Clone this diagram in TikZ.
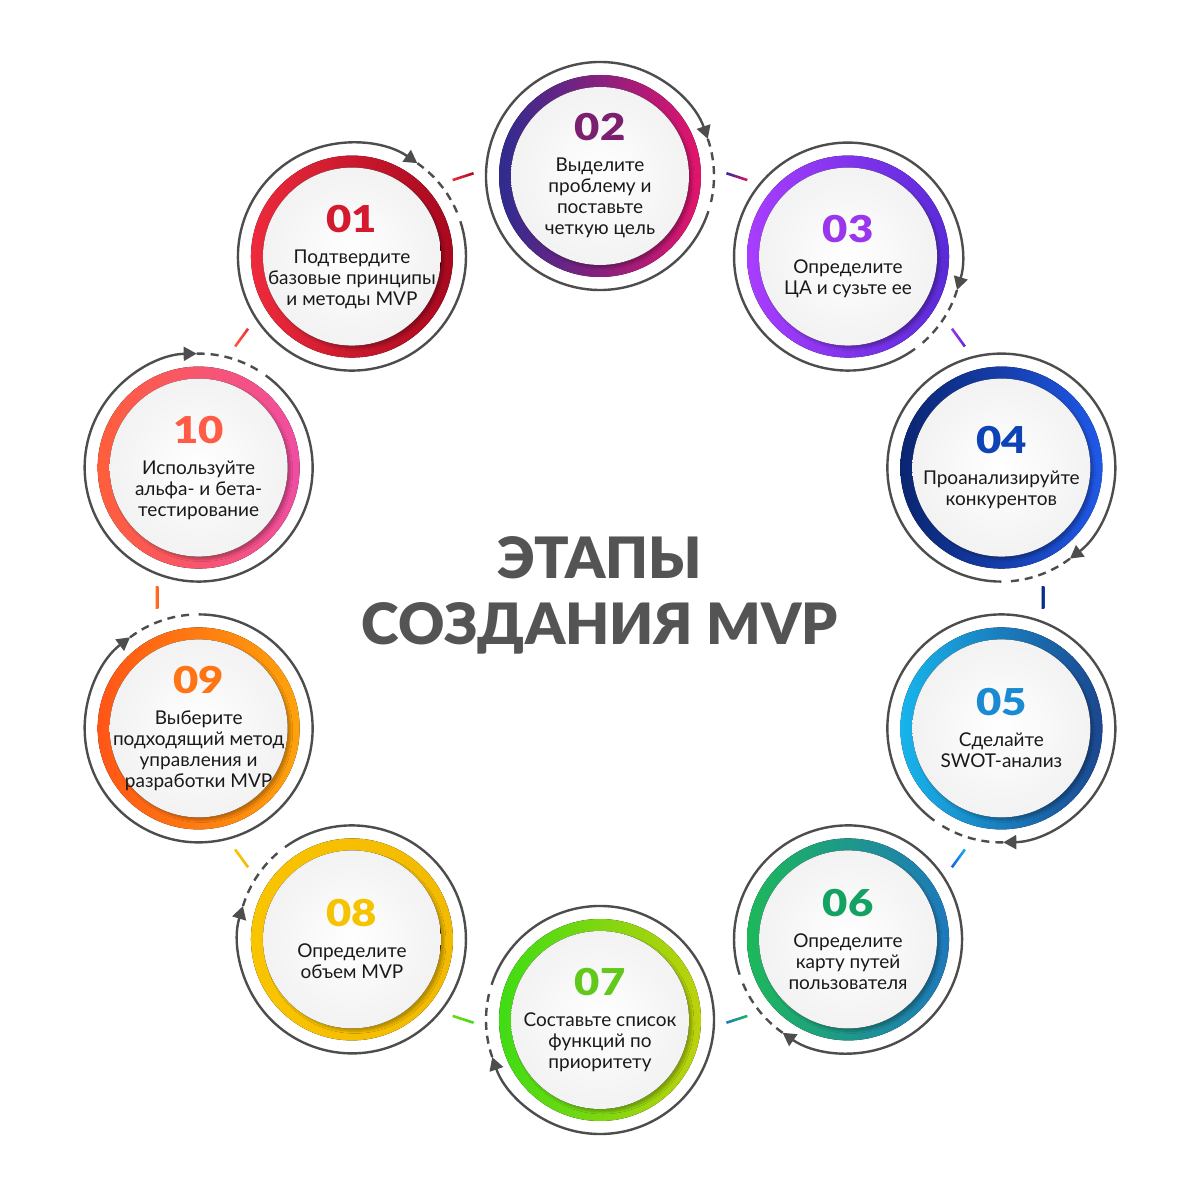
\documentclass[tikz,border=0pt]{standalone}
\usepackage{fontspec}
\setmainfont{Lato}
\newfontfamily\numfont{Lato Black}
\newfontfamily\digitfont{Lato Black}[FakeStretch=1.18]
\usetikzlibrary{arrows.meta,calc,shadows.blur}
% ring colours (left / right / number)
\definecolor{c01a}{HTML}{EE2A3C}\definecolor{c01b}{HTML}{A8081F}\definecolor{c01n}{HTML}{D41A2F}
\definecolor{c02a}{HTML}{2E2C8F}\definecolor{c02b}{HTML}{E3146C}\definecolor{c02n}{HTML}{7B1F6F}
\definecolor{c03a}{HTML}{A93DFF}\definecolor{c03b}{HTML}{5A2BD8}\definecolor{c03n}{HTML}{9A36EC}
\definecolor{c04a}{HTML}{0A2570}\definecolor{c04b}{HTML}{2058E8}\definecolor{c04n}{HTML}{0E43B5}
\definecolor{c05a}{HTML}{18B4EC}\definecolor{c05b}{HTML}{1B4790}\definecolor{c05n}{HTML}{1A8AD3}
\definecolor{c06a}{HTML}{1DB85A}\definecolor{c06b}{HTML}{1E78BC}\definecolor{c06n}{HTML}{14A263}
\definecolor{c07a}{HTML}{3FDC14}\definecolor{c07b}{HTML}{BDD20B}\definecolor{c07n}{HTML}{62C81B}
\definecolor{c08a}{HTML}{F9C400}\definecolor{c08b}{HTML}{F2BA00}\definecolor{c08n}{HTML}{F6C300}
\definecolor{c09a}{HTML}{FF5516}\definecolor{c09b}{HTML}{FFA30A}\definecolor{c09n}{HTML}{FF7414}
\definecolor{c10a}{HTML}{FF5E3A}\definecolor{c10b}{HTML}{F04DA3}\definecolor{c10n}{HTML}{FF5B45}
\definecolor{guidegray}{HTML}{4D4D4D}
\newcommand{\stepnum}[2]{{\digitfont\fontsize{37}{40}\selectfont\textcolor{#1}{#2}}}

\begin{document}
\begin{tikzpicture}[x=1pt, y=1pt,
  guide/.style={draw=guidegray, line width=2.4pt},
  guidearrow/.style={guide, -{Triangle[length=13pt, width=14pt]}},
  guidedash/.style={guide, dash pattern=on 8pt off 6pt},
  disk/.style={inner color=white, outer color=black!5,
    blur shadow={shadow xshift=3pt, shadow yshift=-3pt, shadow opacity=25, shadow blur steps=6}},
  stepbox/.style={align=center, inner sep=0pt, text=black!90,
    font=\fontsize{19}{21}\selectfont},
  link/.style={minimum width=22pt, minimum height=2.6pt, inner sep=0pt, outer sep=0pt},
  title/.style={align=center, text=black!67, font=\numfont\fontsize{57}{66}\selectfont},
]
  \fill[white] (0,0) rectangle (1200,1200);
  \useasboundingbox (0,0) rectangle (1200,1200);
  \coordinate (ctr) at (600,602);

  % step centres on the big circle
  \coordinate (c1) at ($(ctr)+(126:422)$);
  \coordinate (c2) at ($(ctr)+(90:422)$);
  \coordinate (c3) at ($(ctr)+(54:422)$);
  \coordinate (c4) at ($(ctr)+(18:422)$);
  \coordinate (c5) at ($(ctr)+(-18:422)$);
  \coordinate (c6) at ($(ctr)+(-54:422)$);
  \coordinate (c7) at ($(ctr)+(-90:422)$);
  \coordinate (c8) at ($(ctr)+(-126:422)$);
  \coordinate (c9) at ($(ctr)+(-162:422)$);
  \coordinate (c10) at ($(ctr)+(162:422)$);

  % short links between the steps
  \node[link, rotate=18, left color=c01a, right color=c01b] (j1) at ($(ctr)+(108:443)$) {};
  \node[link, rotate=-18, left color=c02a, right color=c02b] (j2) at ($(ctr)+(72:443)$) {};
  \node[link, rotate=-54, left color=c03n, right color=c03b] (j3) at ($(ctr)+(36:443)$) {};
  \node[link, rotate=-90, left color=c04a, right color=c04n] (j4) at ($(ctr)+(0:443)$) {};
  \node[link, rotate=-126, left color=c04b, right color=c05a] (j5) at ($(ctr)+(-36:443)$) {};
  \node[link, rotate=-162, left color=c06b, right color=c06a] (j6) at ($(ctr)+(-72:443)$) {};
  \node[link, rotate=-198, left color=c07a!60!c07b, right color=c07a] (j7) at ($(ctr)+(-108:443)$) {};
  \node[link, rotate=-234, left color=c08a, right color=c08b] (j8) at ($(ctr)+(-144:443)$) {};
  \node[link, rotate=-270, left color=c09n, right color=c10a] (j9) at ($(ctr)+(-180:443)$) {};
  \node[link, rotate=54, left color=c10a, right color=c01a] (j10) at ($(ctr)+(144:443)$) {};

  % outer guide rings: solid arc with arrow, then dashes
  \draw[guidearrow] (c1) ++(18:114) arc[start angle=18, end angle=-305, radius=114];
  \draw[guidedash] (c1) ++(55:114) arc[start angle=55, end angle=20, radius=114];
  \draw[guidearrow] (c2) ++(-18:114) arc[start angle=-18, end angle=-341, radius=114];
  \draw[guidedash] (c2) ++(19:114) arc[start angle=19, end angle=-16, radius=114];
  \draw[guidearrow] (c3) ++(-54:114) arc[start angle=-54, end angle=-377, radius=114];
  \draw[guidedash] (c3) ++(-17:114) arc[start angle=-17, end angle=-52, radius=114];
  \draw[guidearrow] (c4) ++(-90:114) arc[start angle=-90, end angle=-413, radius=114];
  \draw[guidedash] (c4) ++(-53:114) arc[start angle=-53, end angle=-88, radius=114];
  \draw[guidearrow] (c5) ++(-126:114) arc[start angle=-126, end angle=-449, radius=114];
  \draw[guidedash] (c5) ++(-89:114) arc[start angle=-89, end angle=-124, radius=114];
  \draw[guidearrow] (c6) ++(-162:114) arc[start angle=-162, end angle=-485, radius=114];
  \draw[guidedash] (c6) ++(-125:114) arc[start angle=-125, end angle=-160, radius=114];
  \draw[guidearrow] (c7) ++(-198:114) arc[start angle=-198, end angle=-521, radius=114];
  \draw[guidedash] (c7) ++(-161:114) arc[start angle=-161, end angle=-196, radius=114];
  \draw[guidearrow] (c8) ++(-234:114) arc[start angle=-234, end angle=-557, radius=114];
  \draw[guidedash] (c8) ++(-197:114) arc[start angle=-197, end angle=-232, radius=114];
  \draw[guidearrow] (c9) ++(-270:114) arc[start angle=-270, end angle=-593, radius=114];
  \draw[guidedash] (c9) ++(-233:114) arc[start angle=-233, end angle=-268, radius=114];
  \draw[guidearrow] (c10) ++(54:114) arc[start angle=54, end angle=-269, radius=114];
  \draw[guidedash] (c10) ++(91:114) arc[start angle=91, end angle=56, radius=114];

  % coloured rings and light disks
  \fill[left color=c01a, right color=c01b] (c1) circle[radius=101];
  \fill[left color=c02a, right color=c02b] (c2) circle[radius=101];
  \fill[left color=c03a, right color=c03b] (c3) circle[radius=101];
  \fill[left color=c04a, right color=c04b] (c4) circle[radius=101];
  \fill[left color=c05a, right color=c05b] (c5) circle[radius=101];
  \fill[left color=c06a, right color=c06b] (c6) circle[radius=101];
  \fill[left color=c07a, right color=c07b] (c7) circle[radius=101];
  \fill[left color=c08a, right color=c08b] (c8) circle[radius=101];
  \fill[left color=c09a, right color=c09b] (c9) circle[radius=101];
  \fill[left color=c10a, right color=c10b] (c10) circle[radius=101];
  \foreach \c in {c1,c2,c3,c4,c5,c6,c7,c8,c9,c10}
    \fill[disk] (\c) circle[radius=89];

  % step texts
  \node[stepbox] (s1) at (c1) {\stepnum{c01n}{01}\\[10pt]Подтвердите\\базовые принципы\\и методы MVP};
  \node[stepbox] (s2) at (c2) {\stepnum{c02n}{02}\\[10pt]Выделите\\проблему и\\поставьте\\четкую цель};
  \node[stepbox] (s3) at (c3) {\stepnum{c03n}{03}\\[10pt]Определите\\ЦА и сузьте ее};
  \node[stepbox] (s4) at (c4) {\stepnum{c04n}{04}\\[10pt]Проанализируйте\\конкурентов};
  \node[stepbox] (s5) at (c5) {\stepnum{c05n}{05}\\[10pt]Сделайте\\SWOT-анализ};
  \node[stepbox] (s6) at (c6) {\stepnum{c06n}{06}\\[10pt]Определите\\карту путей\\пользователя};
  \node[stepbox] (s7) at (c7) {\stepnum{c07n}{07}\\[10pt]Составьте список\\функций по\\приоритету};
  \node[stepbox] (s8) at (c8) {\stepnum{c08n}{08}\\[10pt]Определите\\объем MVP};
  \node[stepbox] (s9) at (c9) {\stepnum{c09n}{09}\\[10pt]Выберите\\подходящий метод\\управления и\\разработки MVP};
  \node[stepbox] (s10) at (c10) {\stepnum{c10n}{10}\\[10pt]Используйте\\альфа- и бета-\\тестирование};

  % title in the middle
  \node[title] (head) at (600,605) {ЭТАПЫ\\СОЗДАНИЯ MVP};
\end{tikzpicture}
\end{document}
